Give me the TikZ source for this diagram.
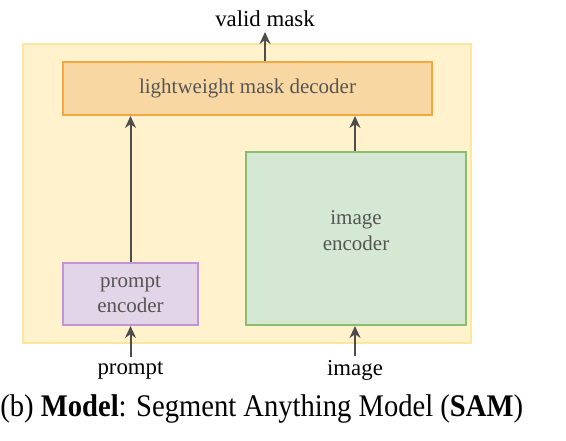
\documentclass[tikz,border=0pt]{standalone}
\usepackage{fontspec}
\setmainfont{Liberation Serif}
\usetikzlibrary{positioning,arrows.meta}

\definecolor{samfill}{HTML}{FFF2CC}
\definecolor{samline}{HTML}{FFE69C}
\definecolor{decfill}{HTML}{F9D7A3}
\definecolor{decline}{HTML}{F4A641}
\definecolor{promptfill}{HTML}{E1D5E7}
\definecolor{promptline}{HTML}{C592D8}
\definecolor{imgfill}{HTML}{D5E8D4}
\definecolor{imgline}{HTML}{8CBD6E}
\definecolor{boxtext}{HTML}{555555}
\definecolor{arrowgray}{HTML}{4D4D4D}

\begin{document}
\begin{tikzpicture}[
    x=0.5pt, y=-0.5pt,
    container/.style={rectangle, draw=samline, fill=samfill, line width=1pt, inner sep=0pt},
    block/.style={rectangle, draw, line width=1pt, inner sep=0pt, align=center,
      text=boxtext, font=\fontsize{10.5}{12.6}\selectfont},
    io/.style={font=\fontsize{11.4}{13}\selectfont, inner sep=2pt},
    flow/.style={-{Stealth[length=6pt,width=5.5pt]}, line width=1pt, draw=arrowgray}
  ]
  \useasboundingbox (0,0) rectangle (566,440);

  % Model frame
  \node[container, minimum width=224pt, minimum height=149.5pt] (sam) at (247,193.5) {};

  % Blocks
  \node[block, draw=decline, fill=decfill, minimum width=184.5pt, minimum height=26.5pt] (dec) at (247.5,88.5) {lightweight mask decoder};
  \node[block, draw=promptline, fill=promptfill, minimum width=67.5pt, minimum height=31pt] (pe) at (130.5,294) {prompt\\encoder};
  \node[block, draw=imgline, fill=imgfill, minimum width=110pt, minimum height=86.5pt] (ie) at (356,238.5) {\raisebox{8pt}{\shortstack{image\\[0pt]encoder}}};

  % Inputs and output
  \node[io] (vmask) at (265,19) {valid mask};
  \node[io] (prompt) at (130.5,370) {prompt};
  \node[io] (image) at (355,370) {image};

  % Arrows
  \draw[flow] (dec.north -| vmask) -- ++(0,-29);
  \draw[flow] (pe.north) -- (dec.south -| pe.north);
  \draw[flow] (ie.north -| image) -- (dec.south -| image);
  \draw[flow] (prompt.north) -- (pe.south);
  \draw[flow] (image.north) -- (ie.south -| image);

  % Caption
  \node[anchor=west, inner sep=0pt, font=\fontsize{14.3}{16}\selectfont] (caption) at (0,409)
    {\scalebox{1}[1.1]{(b) \textbf{Model}: Segment Anything Model (\textbf{SAM})}};
\end{tikzpicture}
\end{document}
